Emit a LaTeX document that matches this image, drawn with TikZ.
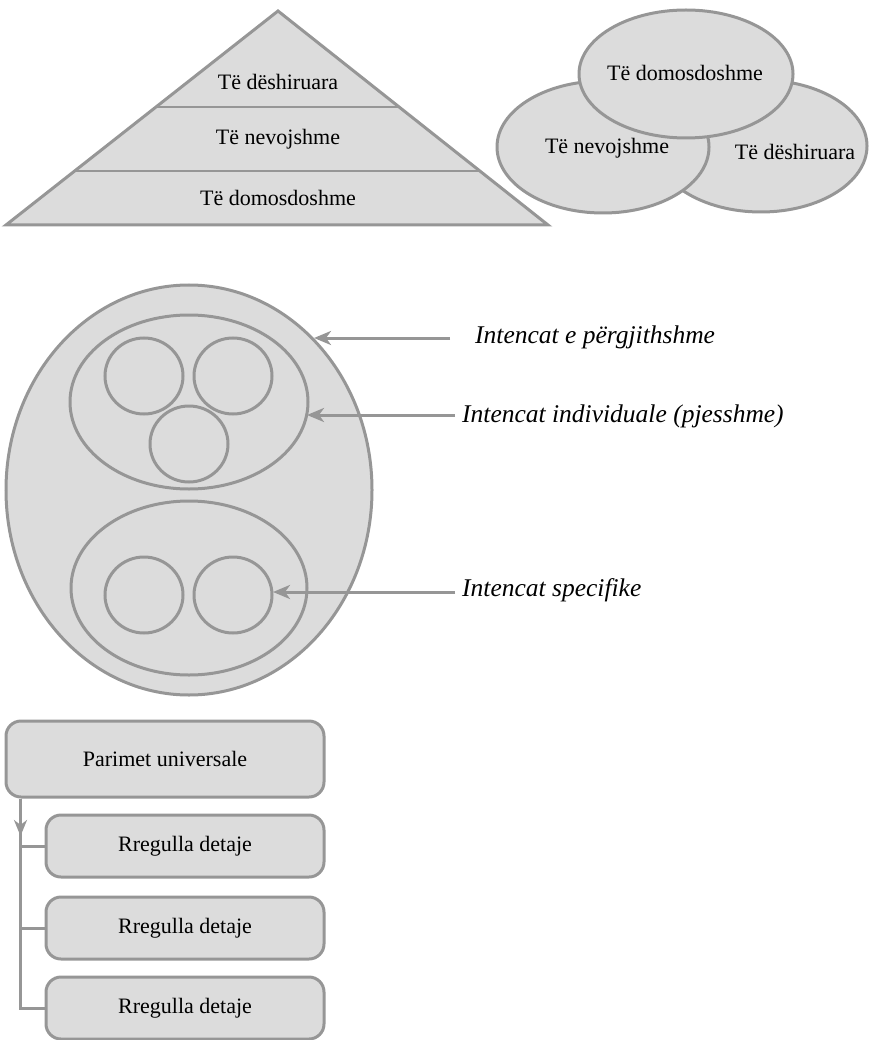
\documentclass[tikz,border=0pt]{standalone}
\usepackage{fontspec}
\setmainfont{Liberation Serif}
\usetikzlibrary{shapes.geometric,arrows.meta}
\definecolor{edge}{RGB}{150,150,150}
\definecolor{shade}{RGB}{220,220,220}

\begin{document}
\begin{tikzpicture}[x=1pt,y=-1pt,
  shapeline/.style={draw=edge,line width=3pt,fill=shade},
  oval/.style={shapeline,ellipse,inner sep=0pt},
  divider/.style={draw=edge,line width=1.8pt},
  lbl/.style={font=\fontsize{22}{26}\selectfont,inner sep=0pt},
  ilbl/.style={font=\fontsize{25.5}{30}\selectfont\itshape,inner sep=0pt,anchor=west},
  pointer/.style={draw=edge,line width=3pt,-{Stealth[length=17pt,width=14pt,inset=5pt]}},
  treeline/.style={draw=edge,line width=3pt},
  rulebox/.style={shapeline,rounded corners=15pt,inner sep=0pt,font=\fontsize{22}{26}\selectfont}
]
\useasboundingbox (0,0) rectangle (869,1040);

% pyramid of needs
\coordinate (apex) at (278,11);
\coordinate (bl) at (6,225);
\coordinate (br) at (548,225);
\draw[shapeline,line join=miter] (bl) -- (apex) -- (br) -- cycle;
\path (bl) -- (apex) coordinate[pos=0.2523] (l2) coordinate[pos=0.5514] (l1);
\path (br) -- (apex) coordinate[pos=0.2523] (r2) coordinate[pos=0.5514] (r1);
\draw[divider] (l1) -- (r1);
\draw[divider] (l2) -- (r2);
\node[lbl] (p1) at (278,82) {Të dëshiruara};
\node[lbl] (p2) at (278,139) {Të nevojshme};
\node[lbl] (p3) at (278,198) {Të domosdoshme};

% overlapping ovals
\node[oval,minimum width=212pt,minimum height=132pt] (vR) at (761,146) {};
\node[oval,minimum width=212pt,minimum height=132pt] (vL) at (603,147) {};
\node[oval,minimum width=214pt,minimum height=128pt] (vT) at (686,74) {};
\node[lbl] (tR) at (795,152) {Të dëshiruara};
\node[lbl] (tL) at (607,148) {Të nevojshme};
\node[lbl] (tT) at (685,73) {Të domosdoshme};

% nested sets of intentions
\node[oval,minimum width=366pt,minimum height=410pt] (outer) at (189,490) {};
\node[oval,minimum width=238pt,minimum height=174pt] (upper) at (189,402) {};
\node[oval,minimum width=78pt,minimum height=76pt] (u1) at (144,376) {};
\node[oval,minimum width=78pt,minimum height=76pt] (u2) at (233,376) {};
\node[oval,minimum width=78pt,minimum height=76pt] (u3) at (189,444) {};
\node[oval,minimum width=236pt,minimum height=174pt] (lower) at (189,588) {};
\node[oval,minimum width=78pt,minimum height=76pt] (d1) at (144,595) {};
\node[oval,minimum width=78pt,minimum height=76pt] (d2) at (233,595) {};

\node[ilbl] (gen) at (475,337) {Intencat e përgjithshme};
\node[ilbl] (ind) at (462,416) {Intencat individuale (pjesshme)};
\node[ilbl] (spe) at (462,590) {Intencat specifike};

\coordinate (gen0) at (450,338);
\coordinate (gen1) at (314,338);
\coordinate (ind0) at (455,415);
\coordinate (ind1) at (307,415);
\coordinate (spe0) at (455,592);
\coordinate (spe1) at (273,592);
\draw[pointer] (gen0) -- (gen1);
\draw[pointer] (ind0) -- (ind1);
\draw[pointer] (spe0) -- (spe1);

% principles and detailed rules
\node[rulebox,minimum width=318pt,minimum height=76pt] (pu) at (165,759) {Parimet universale};
\node[rulebox,minimum width=278pt,minimum height=62pt] (rr1) at (185,846) {Rregulla detaje};
\node[rulebox,minimum width=278pt,minimum height=62pt] (rr2) at (185,928) {Rregulla detaje};
\node[rulebox,minimum width=278pt,minimum height=62pt] (rr3) at (185,1008) {Rregulla detaje};

\path (pu.south west) ++(16,0) coordinate (trunk);
\draw[treeline] (trunk) |- (rr3.west);
\draw[treeline] (trunk |- rr1.west) -- (rr1.west);
\draw[treeline] (trunk |- rr2.west) -- (rr2.west);
\draw[draw=edge,line width=3pt,-{Stealth[length=16pt,width=13pt,inset=5pt]}] (trunk) -- (trunk |- 0,836);
\end{tikzpicture}
\end{document}
